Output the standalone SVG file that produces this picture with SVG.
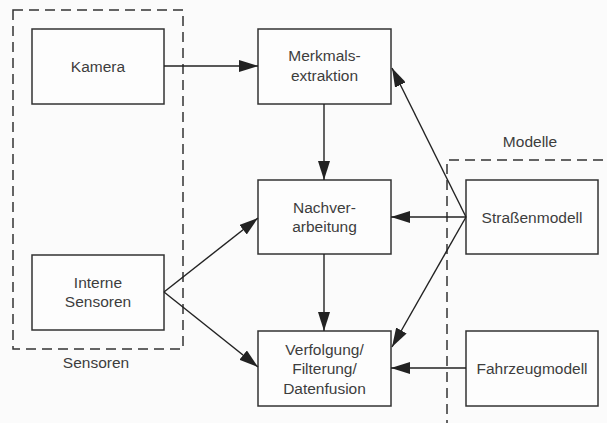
<svg xmlns="http://www.w3.org/2000/svg" width="607" height="423" viewBox="0 0 607 423">
  <style>
    .box { fill: #fdfdfd; stroke: #333; stroke-width: 1.5; }
    .group { fill: none; stroke: #333; stroke-width: 1.5; stroke-dasharray: 10 6; }
    .lbl { font-family: "Liberation Sans", Arial, sans-serif; font-size: 15.5px; fill: #3d3d3d; text-anchor: middle; }
    .edge { fill: none; stroke: #222; stroke-width: 1.4; marker-end: url(#arrow); }
  </style>
  <defs>
    <marker id="arrow" viewBox="0 0 19 12" refX="19" refY="6" markerWidth="19" markerHeight="12" markerUnits="userSpaceOnUse" orient="auto">
      <path d="M0,0 L19,6 L0,12 Z" fill="#222"/>
    </marker>
  </defs>
  <rect width="607" height="423" fill="#fbfbfb"/>

  <!-- sensor group -->
  <g id="sensoren">
    <rect class="group" x="13" y="10" width="170" height="339"/>
    <text class="lbl" x="96" y="368">Sensoren</text>
  </g>

  <!-- model group -->
  <g id="modelle">
    <path class="group" d="M447,430 L447,160 L615,160"/>
    <text class="lbl" x="530" y="147">Modelle</text>
  </g>

  <g id="kamera">
    <rect class="box" x="32" y="29" width="132" height="75"/>
    <text class="lbl" x="98" y="71.5">Kamera</text>
  </g>

  <g id="interne-sensoren">
    <rect class="box" x="32" y="255" width="132" height="75"/>
    <text class="lbl" x="98" y="288">Interne</text>
    <text class="lbl" x="98" y="307">Sensoren</text>
  </g>

  <g id="merkmalsextraktion">
    <rect class="box" x="258" y="29" width="133" height="75"/>
    <text class="lbl" x="324.5" y="61">Merkmals-</text>
    <text class="lbl" x="324.5" y="80.5">extraktion</text>
  </g>

  <g id="nachverarbeitung">
    <rect class="box" x="258" y="180" width="133" height="74"/>
    <text class="lbl" x="324.5" y="212.5">Nachver-</text>
    <text class="lbl" x="324.5" y="232">arbeitung</text>
  </g>

  <g id="verfolgung">
    <rect class="box" x="258" y="331" width="133" height="75"/>
    <text class="lbl" x="324.5" y="355">Verfolgung/</text>
    <text class="lbl" x="324.5" y="374">Filterung/</text>
    <text class="lbl" x="324.5" y="393.5">Datenfusion</text>
  </g>

  <g id="strassenmodell">
    <rect class="box" x="466" y="180" width="132" height="74"/>
    <text class="lbl" x="532" y="222.5">Straßenmodell</text>
  </g>

  <g id="fahrzeugmodell">
    <rect class="box" x="466" y="331" width="132" height="75"/>
    <text class="lbl" x="532" y="373.5">Fahrzeugmodell</text>
  </g>

  <g id="connectors">
    <line class="edge" x1="164" y1="66" x2="258" y2="66"/>
    <line class="edge" x1="324" y1="104" x2="324" y2="180"/>
    <line class="edge" x1="324" y1="254" x2="324" y2="331"/>
    <line class="edge" x1="164" y1="292" x2="258" y2="218"/>
    <line class="edge" x1="164" y1="292" x2="258" y2="367"/>
    <line class="edge" x1="466" y1="217" x2="392" y2="68"/>
    <line class="edge" x1="466" y1="217" x2="391" y2="217"/>
    <line class="edge" x1="466" y1="217" x2="392" y2="347"/>
    <line class="edge" x1="466" y1="368" x2="391" y2="368"/>
  </g>
</svg>
